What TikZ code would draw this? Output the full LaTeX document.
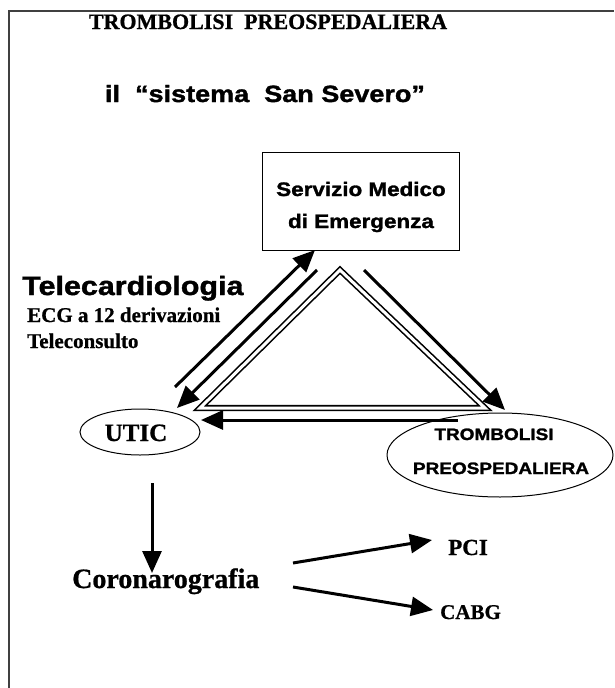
\documentclass[tikz,border=0pt]{standalone}
\usepackage{fontspec}
\setmainfont{Liberation Serif}[BoldFeatures={FakeBold=0.8}]
\newfontfamily\largo{Liberation Sans Bold}[FakeStretch=1.15, FakeBold=1.5]
\usetikzlibrary{shapes,arrows.meta}
\tikzstyle{freccia} = [line width=3pt, -{Triangle[length=22pt,width=19pt]}]
\tikzstyle{ovale} = [draw, ellipse, line width=1pt, inner sep=0pt]
\tikzstyle{testo} = [inner sep=0pt, anchor=base]

\begin{document}
\begin{tikzpicture}[x=1pt,y=-1pt]
\useasboundingbox (0,0) rectangle (614,688);
\draw[line width=2pt, black!75] (9,688) -- (9,11) -- (614,11);

% titoli
\node[testo, font=\fontsize{22}{26}\selectfont\bfseries] (titolo) at (268,29) {TROMBOLISI\ \ PREOSPEDALIERA};
\node[testo, font=\fontsize{23.5}{27}\selectfont\largo] (sistema) at (265,102) {il\ \ “sistema\ \ San Severo”};

% triangolo
\coordinate (T) at (340,270);
\coordinate (TL) at (200,408);
\coordinate (TR) at (485,408);
\draw[double, double distance=3pt, line width=1.6pt, line join=miter] (T) -- (TR) -- (TL) -- cycle;

% nodi
\node[draw, line width=1pt, minimum width=197, minimum height=98] (sme) at (360.5,201) {};
\node[testo, font=\fontsize{19.5}{23}\selectfont\largo] (sme1) at (361,196) {Servizio Medico};
\node[testo, font=\fontsize{19.5}{23}\selectfont\largo] (sme2) at (361,228) {di Emergenza};

\node[ovale, minimum width=120, minimum height=46] (utic) at (140,432) {};
\node[testo, font=\fontsize{25}{28}\selectfont\bfseries] (utictxt) at (136,441) {UTIC};

\node[ovale, minimum width=226, minimum height=84] (tpo) at (500,455) {};
\node[testo, font=\fontsize{16.5}{19}\selectfont\largo] (tpo1) at (494,440) {TROMBOLISI};
\node[testo, font=\fontsize{16.5}{19}\selectfont\largo] (tpo2) at (501,474) {PREOSPEDALIERA};

\node[testo, anchor=base west, font=\fontsize{26.5}{30}\selectfont\largo] (tele) at (22,295) {Telecardiologia};
\node[testo, anchor=base west, font=\fontsize{21}{25}\selectfont\bfseries] (ecg) at (27,322) {ECG a 12 derivazioni};
\node[testo, anchor=base west, font=\fontsize{21}{25}\selectfont\bfseries] (consulto) at (27,348) {Teleconsulto};

\node[testo, anchor=base west, font=\fontsize{28}{32}\selectfont\bfseries] (corona) at (72,588) {Coronarografia};
\node[testo, anchor=base west, font=\fontsize{23}{27}\selectfont\bfseries] (pci) at (448,555) {PCI};
\node[testo, anchor=base west, font=\fontsize{21}{25}\selectfont\bfseries] (cabg) at (440,619) {CABG};

% frecce
\coordinate (A1) at (175,387);
\coordinate (A2) at (315,250);
\coordinate (B1) at (317,270);
\coordinate (B2) at (177,408);
\coordinate (C1) at (364,270);
\coordinate (C2) at (505,410);
\coordinate (D1) at (458,420);
\coordinate (D2) at (201,420);
\coordinate (E1) at (152,483);
\coordinate (E2) at (152,573);
\coordinate (F1) at (293,563);
\coordinate (F2) at (432,540);
\coordinate (G1) at (293,587);
\coordinate (G2) at (433,610);

\draw[freccia] (A1) -- (A2);
\draw[freccia] (B1) -- (B2);
\draw[freccia] (C1) -- (C2);
\draw[freccia] (D1) -- (D2);
\draw[freccia] (E1) -- (E2);
\draw[freccia] (F1) -- (F2);
\draw[freccia] (G1) -- (G2);

\end{tikzpicture}
\end{document}
